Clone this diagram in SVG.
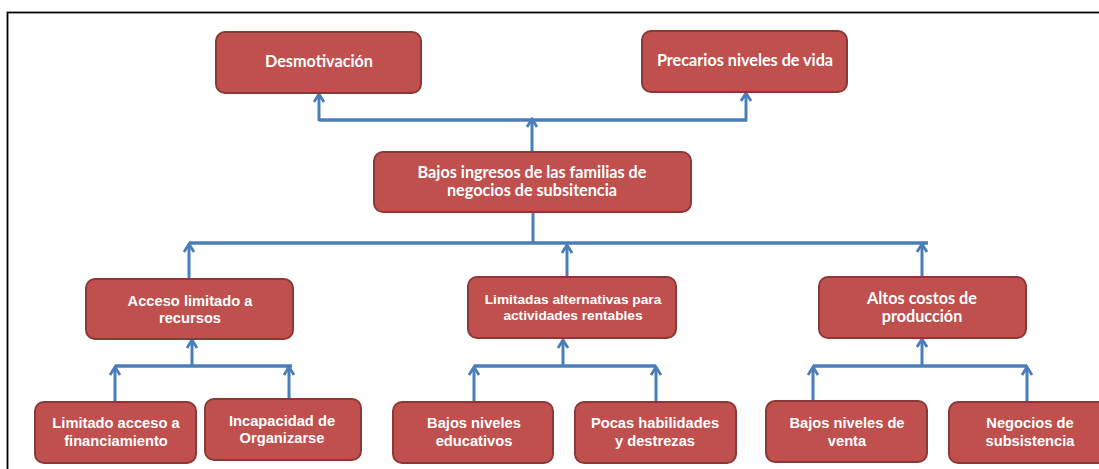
<svg xmlns="http://www.w3.org/2000/svg" width="1099" height="469" viewBox="0 0 1099 469">
<style>
.box{fill:#C0504D;stroke:#8C3836;stroke-width:2}
.t{fill:#FFFFFF;font-family:"Liberation Sans",Arial,sans-serif;font-weight:bold;font-size:14.7px;text-anchor:middle}
.c{font-family:Lato,"Liberation Sans",sans-serif;font-size:16.2px}
.s{font-size:13.7px}
.bus{stroke:#4A7EBB;stroke-width:3.5;fill:none}
.ln{stroke:#4A7EBB;stroke-width:3;fill:none}
.ar{stroke:#4A7EBB;stroke-width:3;fill:none;marker-end:url(#arr)}
</style>
<defs>
<marker id="arr" viewBox="-10 -7 12 14" refX="0" refY="0" markerWidth="12" markerHeight="14" markerUnits="userSpaceOnUse" orient="auto">
<path d="M-8,-5 L0,0 L-8,5" fill="none" stroke="#4A7EBB" stroke-width="2.8" stroke-linejoin="miter"/>
</marker>
</defs>
<rect x="0" y="0" width="1099" height="469" fill="#FFFFFF"/>
<rect x="7.5" y="12.5" width="1100" height="470" fill="none" stroke="#000000" stroke-width="1.8"/>

<g id="connectors">
<path class="ar" d="M532,151 V119"/>
<path class="bus" d="M319,120 H747"/>
<path class="ar" d="M319,121 V94"/>
<path class="ar" d="M746,121 V93"/>
<path class="ln" d="M533,213 V243"/>
<path class="bus" d="M189,243 H928"/>
<path class="ar" d="M189,278 V244"/>
<path class="ar" d="M567,277 V245"/>
<path class="ar" d="M922,277 V244"/>
<path class="bus" d="M115,366 H292"/>
<path class="ar" d="M192,366 V340"/>
<path class="ar" d="M115,402 V367"/>
<path class="ar" d="M289,399 V367"/>
<path class="bus" d="M474,366 H656"/>
<path class="ar" d="M563,366 V340"/>
<path class="ar" d="M474,402 V367"/>
<path class="ar" d="M656,402 V367"/>
<path class="bus" d="M813,366 H1027"/>
<path class="ar" d="M922,366 V339"/>
<path class="ar" d="M813,401 V367"/>
<path class="ar" d="M1027,402 V367"/>
</g>

<g id="desmotivacion">
<rect class="box" x="216" y="32" width="205" height="61" rx="9"/>
<text class="t c" x="319" y="67">Desmotivación</text>
</g>
<g id="precarios">
<rect class="box" x="642" y="31" width="205" height="61" rx="9"/>
<text class="t c" x="745" y="66">Precarios niveles de vida</text>
</g>
<g id="bajos-ingresos">
<rect class="box" x="374" y="152" width="317" height="60" rx="9"/>
<text class="t c" x="532" y="178">Bajos ingresos de las familias de</text>
<text class="t c" x="532" y="196">negocios de subsitencia</text>
</g>
<g id="acceso-limitado">
<rect class="box" x="86" y="279" width="207" height="60" rx="9"/>
<text class="t" x="190" y="306">Acceso limitado a</text>
<text class="t" x="190" y="323">recursos</text>
</g>
<g id="limitadas-alternativas">
<rect class="box" x="468" y="277" width="208" height="61" rx="9"/>
<text class="t s" x="573" y="304">Limitadas alternativas para</text>
<text class="t s" x="573" y="320">actividades rentables</text>
</g>
<g id="altos-costos">
<rect class="box" x="819" y="277" width="207" height="61" rx="9"/>
<text class="t c" x="922" y="304">Altos costos de</text>
<text class="t c" x="922" y="322">producción</text>
</g>
<g id="limitado-acceso">
<rect class="box" x="35" y="402" width="161" height="61" rx="9"/>
<text class="t" x="116" y="428">Limitado acceso a</text>
<text class="t" x="116" y="446">financiamiento</text>
</g>
<g id="incapacidad">
<rect class="box" x="205" y="399" width="156" height="61" rx="9"/>
<text class="t" x="282" y="426">Incapacidad de</text>
<text class="t" x="282" y="443">Organizarse</text>
</g>
<g id="bajos-educativos">
<rect class="box" x="393" y="402" width="160" height="61" rx="9"/>
<text class="t" x="474" y="428">Bajos niveles</text>
<text class="t" x="474" y="446">educativos</text>
</g>
<g id="pocas-habilidades">
<rect class="box" x="575" y="402" width="161" height="61" rx="9"/>
<text class="t" x="655" y="428">Pocas habilidades</text>
<text class="t" x="655" y="446">y destrezas</text>
</g>
<g id="bajos-venta">
<rect class="box" x="766" y="401" width="161" height="61" rx="9"/>
<text class="t" x="847" y="428">Bajos niveles de</text>
<text class="t" x="847" y="446">venta</text>
</g>
<g id="negocios">
<rect class="box" x="949" y="402" width="162" height="61" rx="9"/>
<text class="t" x="1030" y="428">Negocios de</text>
<text class="t" x="1030" y="446">subsistencia</text>
</g>
</svg>
